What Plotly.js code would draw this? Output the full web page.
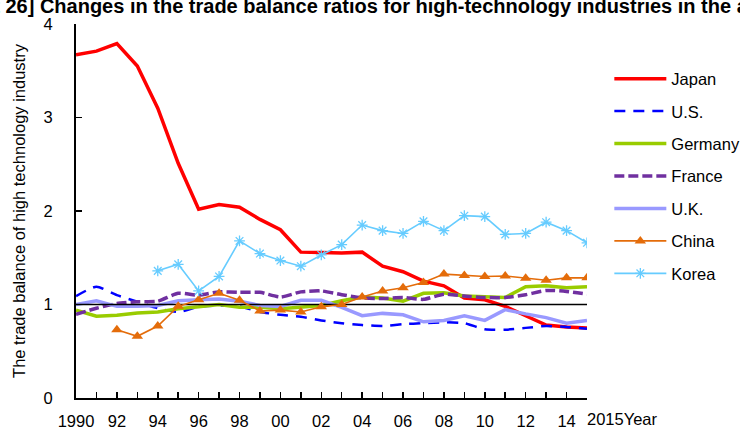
<!DOCTYPE html>
<html>
<head>
<meta charset="utf-8">
<script src="https://cdn.plot.ly/plotly-3.0.1.min.js"></script>
<style>
  html, body { margin: 0; padding: 0; background: #fff; overflow: hidden; }
  #chart { width: 740px; height: 429px; }
</style>
</head>
<body>
<div id="chart"></div>
<script>
// ---- data ----
var years = [1990, 1991, 1992, 1993, 1994, 1995, 1996, 1997, 1998, 1999, 2000, 2001, 2002,
             2003, 2004, 2005, 2006, 2007, 2008, 2009, 2010, 2011, 2012, 2013, 2014, 2015];
var xTickText = ["1990", "", "92", "", "94", "", "96", "", "98", "", "00", "", "02",
                 "", "04", "", "06", "", "08", "", "10", "", "12", "", "14", ""];
var yTickVals = [0, 1, 2, 3, 4];

var japan   = [3.67, 3.71, 3.79, 3.55, 3.10, 2.51, 2.02, 2.07, 2.04, 1.91, 1.80, 1.56, 1.555,
               1.55, 1.56, 1.41, 1.35, 1.25, 1.20, 1.07, 1.05, 0.98, 0.88, 0.78, 0.76, 0.75];
var us      = [1.09, 1.19, 1.10, 1.03, 0.96, 0.92, 0.975, 0.99, 0.98, 0.92, 0.89, 0.87, 0.83,
               0.80, 0.78, 0.77, 0.79, 0.80, 0.81, 0.80, 0.735, 0.73, 0.75, 0.77, 0.76, 0.74];
var germany = [0.94, 0.875, 0.885, 0.91, 0.92, 0.955, 0.975, 1.00, 0.97, 0.97, 0.955, 0.97, 0.99,
               1.04, 1.08, 1.07, 1.035, 1.12, 1.125, 1.09, 1.08, 1.075, 1.19, 1.20, 1.18, 1.19];
var france  = [0.895, 0.96, 1.01, 1.03, 1.035, 1.12, 1.10, 1.135, 1.13, 1.13, 1.08, 1.135, 1.145,
               1.105, 1.07, 1.065, 1.075, 1.055, 1.11, 1.09, 1.075, 1.075, 1.105, 1.15, 1.14, 1.11];
var uk      = [1.00, 1.04, 0.98, 0.98, 0.99, 1.04, 1.05, 1.06, 1.035, 0.99, 0.98, 1.045, 1.045,
               0.97, 0.88, 0.905, 0.89, 0.815, 0.83, 0.88, 0.83, 0.945, 0.90, 0.86, 0.80, 0.83];
var china   = [null, null, 0.73, 0.66, 0.77, 0.98, 1.05, 1.12, 1.045, 0.93, 0.94, 0.92, 0.975,
               1.00, 1.08, 1.145, 1.18, 1.235, 1.325, 1.31, 1.30, 1.305, 1.28, 1.26, 1.285, 1.285];
var korea   = [null, null, null, null, 1.36, 1.43, 1.145, 1.30, 1.68, 1.545, 1.47, 1.41, 1.53,
               1.64, 1.85, 1.79, 1.76, 1.89, 1.79, 1.95, 1.94, 1.75, 1.76, 1.88, 1.79, 1.66];
var parity  = [1, 1];
var parityYears = [1990, 2015];

var titleText = "[Chart 26] Changes in the trade balance ratios for high-technology industries in the advanced countries";
var yTitle = "The trade balance of high technology industry";

// ---- chart ----
var FONT = "Liberation Sans, Arial, Helvetica, sans-serif";
var FS = 16.5;

function lineTrace(name, y, color, width, dash, shape) {
  return {
    type: "scatter", mode: "lines", name: name, x: years, y: y,
    legendgroup: name,
    line: { color: color, width: width, dash: dash || "solid", shape: shape || "linear", smoothing: 0.6 },
    hoverinfo: "x+y+name"
  };
}

var traces = [
  lineTrace("Japan", japan, "#FF0000", 3.5),
  lineTrace("U.S.", us, "#0000FF", 2.5, "11px,8px", "spline"),
  lineTrace("Germany", germany, "#99CC00", 3.5),
  lineTrace("France", france, "#7030A0", 3.5, "10px,4px", "spline"),
  lineTrace("U.K.", uk, "#9999FF", 3.5),
  {
    type: "scatter", mode: "lines", x: parityYears, y: parity, showlegend: false,
    line: { color: "#000000", width: 1.3 }, hoverinfo: "skip"
  },
  {
    type: "scatter", mode: "lines+markers", name: "China", x: years, y: china,
    legendgroup: "China",
    line: { color: "#E46C0A", width: 1.6 },
    marker: { symbol: "triangle-up", size: 10, color: "#E46C0A" }
  },
  {
    type: "scatter", mode: "lines+markers", name: "Korea", x: years, y: korea,
    legendgroup: "Korea",
    line: { color: "#66CCFF", width: 1.6 },
    marker: { symbol: "asterisk-open", size: 9, line: { color: "#66CCFF", width: 1.3 } }
  }
];

var layout = {
  width: 740, height: 429,
  margin: { l: 76, r: 153.3, t: 23.5, b: 31.3, pad: 0, autoexpand: false },
  paper_bgcolor: "#ffffff", plot_bgcolor: "#ffffff",
  font: { family: FONT, size: FS, color: "#000000" },
  showlegend: true,
  legend: {
    x: 1.0437, xanchor: "left", y: 0.9, yanchor: "top",
    font: { family: FONT, size: FS, color: "#000000" },
    traceorder: "grouped", tracegroupgap: 8, itemwidth: 52,
    bgcolor: "rgba(0,0,0,0)", borderwidth: 0
  },
  xaxis: {
    range: [1990, 2015], tickmode: "array", tickvals: years, ticktext: xTickText,
    ticks: "inside", ticklen: 6, tickwidth: 1.5, tickcolor: "#000000",
    showline: true, linecolor: "#000000", linewidth: 2,
    showgrid: false, zeroline: false, ticklabelstandoff: 7, automargin: false,
    tickfont: { family: FONT, size: FS, color: "#000000" }
  },
  yaxis: {
    range: [0, 4], tickmode: "array", tickvals: yTickVals,
    ticks: "inside", ticklen: 6, tickwidth: 1.5, tickcolor: "#000000",
    showline: true, linecolor: "#000000", linewidth: 2,
    showgrid: false, zeroline: false, ticklabelstandoff: 18,
    tickfont: { family: FONT, size: FS, color: "#000000" },
    automargin: false,
    title: { text: yTitle, standoff: 14, font: { family: FONT, size: FS, color: "#000000" } }
  },
  annotations: [
    {
      text: "2015Year", xref: "x", x: 2015, yref: "paper", y: 0,
      xanchor: "left", yanchor: "top", xshift: -2, yshift: -10, showarrow: false,
      font: { family: FONT, size: FS, color: "#000000" }
    },
    {
      text: "<b>" + titleText + "</b>", xref: "paper", x: -76 / 510.7, yref: "paper", y: 1,
      xanchor: "left", yanchor: "bottom", xshift: -61, yshift: 5, showarrow: false,
      font: { family: FONT, size: 20, color: "#000000" }
    }
  ]
};

Plotly.newPlot("chart", traces, layout, { staticPlot: true, displayModeBar: false });
</script>
</body>
</html>
